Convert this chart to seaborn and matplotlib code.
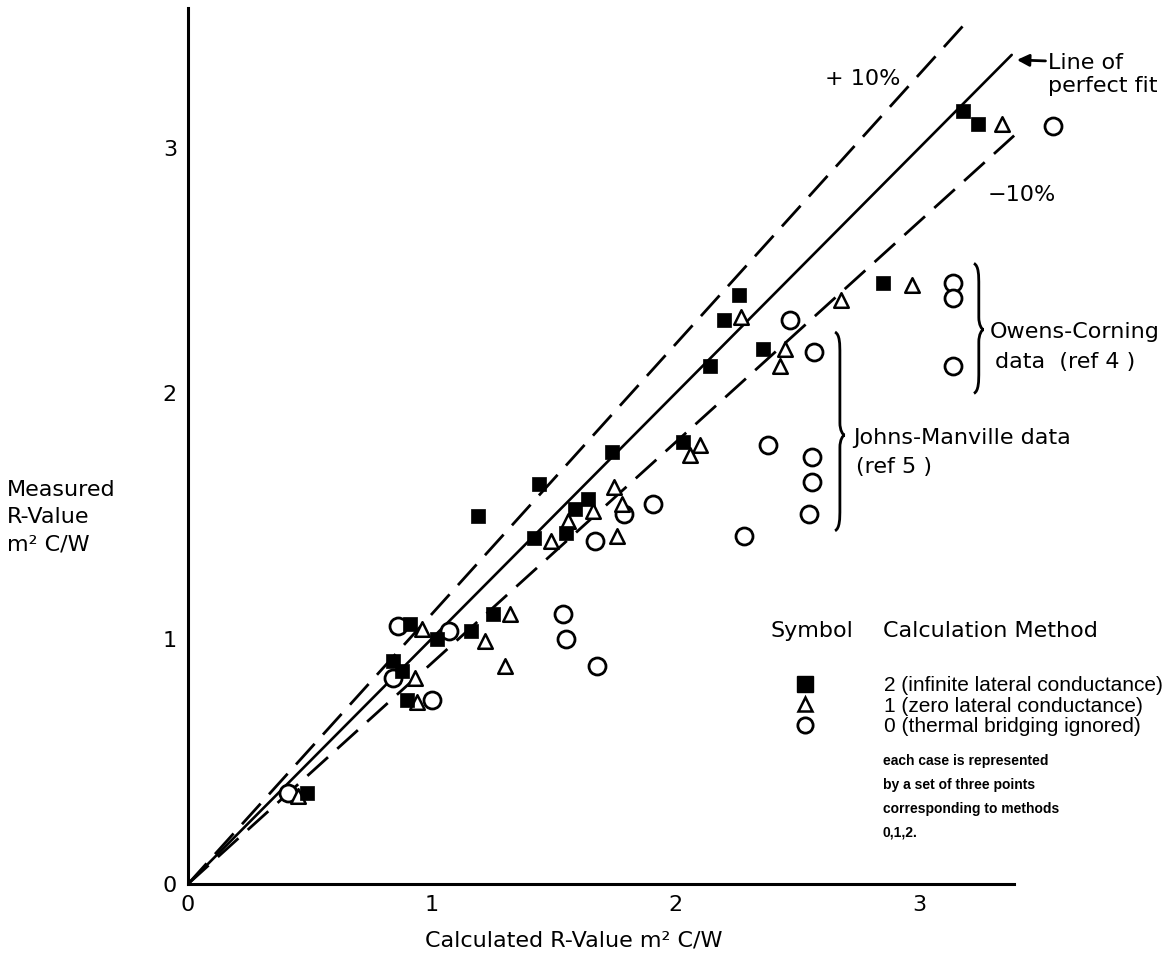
import pandas as pd
import matplotlib.pyplot as plt
import seaborn as sns
from matplotlib.path import Path
from matplotlib.patches import PathPatch
from matplotlib.lines import Line2D

# Method 2 (infinite lateral conductance) - filled squares
calc_m2 = [0.49, 0.84, 0.88, 0.90, 0.91, 1.02, 1.16, 1.25, 1.19, 1.42, 1.55, 1.59,
           1.64, 1.44, 1.74, 2.03, 2.14, 2.20, 2.26, 2.36, 2.85, 3.18, 3.24]
meas_m2 = [0.37, 0.91, 0.87, 0.75, 1.06, 1.00, 1.03, 1.10, 1.50, 1.41, 1.43, 1.53,
           1.57, 1.63, 1.76, 1.80, 2.11, 2.30, 2.40, 2.18, 2.45, 3.15, 3.10]

# Method 1 (zero lateral conductance) - open triangles
calc_m1 = [0.45, 0.93, 0.94, 0.96, 1.22, 1.30, 1.32, 1.49, 1.56, 1.66, 1.75, 1.76,
           1.78, 2.06, 2.10, 2.27, 2.43, 2.45, 2.68, 2.97, 3.34]
meas_m1 = [0.36, 0.84, 0.74, 1.04, 0.99, 0.89, 1.10, 1.40, 1.48, 1.52, 1.62, 1.42,
           1.55, 1.75, 1.79, 2.31, 2.11, 2.18, 2.38, 2.44, 3.10]

# Method 0 (thermal bridging ignored) - open circles
calc_m0 = [0.41, 0.84, 0.86, 1.00, 1.07, 1.54, 1.55, 1.68, 1.67, 1.79, 1.91, 2.28,
           2.38, 2.47, 2.57, 2.55, 2.56, 2.56, 3.14, 3.14, 3.14, 3.55]
meas_m0 = [0.37, 0.84, 1.05, 0.75, 1.03, 1.10, 1.00, 0.89, 1.40, 1.51, 1.55, 1.42,
           1.79, 2.30, 2.17, 1.51, 1.64, 1.74, 2.45, 2.39, 2.11, 3.09]

# Reference lines: perfect fit and +/- 10 %
fit_x = [0, 3.38]
plus_x = [0, 3.21]
minus_x = [0, 3.39]

legend_labels = ['2 (infinite lateral conductance)',
                 '1 (zero lateral conductance)',
                 '0 (thermal bridging ignored)']

sns.set_style('white')
plt.rcParams['font.family'] = ['DejaVu Sans']
plt.rcParams['text.color'] = 'black'
plt.rcParams['axes.labelcolor'] = 'black'

W, H = 1167, 971
fig = plt.figure(figsize=(W / 100, H / 100), dpi=100)
px_x, px_y = 243.7, 245.3
ax = fig.add_axes([188 / W, 87 / H, 3.75 * px_x / W, 3.57 * px_y / H])
ax.set_xlim(0, 3.75)
ax.set_ylim(0, 3.57)

# Lines
ax.plot(fit_x, fit_x, color='black', lw=1.9, zorder=2)
ax.plot(plus_x, [1.1 * v for v in plus_x], color='black', lw=2.0,
        dashes=(10, 4.5), zorder=2)
ax.plot(minus_x, [0.9 * v for v in minus_x], color='black', lw=2.0,
        dashes=(10, 4.5), zorder=2)

# Points
sns.scatterplot(x=calc_m0, y=meas_m0, marker='o', s=150, facecolor='white',
                edgecolor='black', linewidth=2.0, ax=ax, clip_on=False, zorder=3)
sns.scatterplot(x=calc_m1, y=meas_m1, marker='^', s=110, facecolor='white',
                edgecolor='black', linewidth=1.8, ax=ax, clip_on=False, zorder=4)
sns.scatterplot(x=calc_m2, y=meas_m2, marker='s', s=110, color='black',
                edgecolor='black', linewidth=0.5, ax=ax, clip_on=False, zorder=5)

# Axes styling
sns.despine(ax=ax)
ax.spines['left'].set_linewidth(2.2)
ax.spines['bottom'].set_linewidth(2.2)
ax.spines['left'].set_color('black')
ax.spines['bottom'].set_color('black')
ax.spines['bottom'].set_bounds(0, 3.39)
ax.set_xticks([0, 1, 2, 3])
ax.set_yticks([0, 1, 2, 3])
ax.tick_params(direction='in', length=8, width=2, colors='black',
               labelsize=16, pad=8)

ax.set_xlabel('Calculated R-Value m² C/W', fontsize=16, va='center')
ax.xaxis.set_label_coords((574 - 188) / (3.75 * px_x), (884 - 940) / (3.57 * px_y))
ax.set_ylabel('Measured\nR-Value\nm² C/W', fontsize=16, rotation=0,
              ha='left', va='center', linespacing=1.45)
ax.yaxis.set_label_coords((7 - 188) / (3.75 * px_x), (884 - 517) / (3.57 * px_y))

# Annotations
ax.text(2.77, 3.28, '+ 10%', fontsize=16, ha='center', va='center')
ax.text(3.28, 2.81, '\u221210%', fontsize=16, ha='left', va='center')
ax.text(3.53, 3.30, 'Line of\nperfect fit', fontsize=16, ha='left', va='center')
ax.annotate('', xy=(3.39, 3.36), xytext=(3.53, 3.355),
            arrowprops=dict(arrowstyle='-|>', color='black', lw=2,
                            mutation_scale=18))
ax.text(3.29, 2.25, 'Owens-Corning', fontsize=16, ha='left', va='center')
ax.text(3.31, 2.13, 'data  (ref 4 )', fontsize=16, ha='left', va='center')
ax.text(2.73, 1.82, 'Johns-Manville data', fontsize=16, ha='left', va='center')
ax.text(2.74, 1.70, '(ref 5 )', fontsize=16, ha='left', va='center')


def draw_brace(ax, x, y_bot, y_top, y_tip, w):
    h = 0.5 * w
    verts = [(x, y_top),
             (x + h, y_top - 0.01), (x + h, y_top - 0.05), (x + h, y_top - 0.09),
             (x + h, y_tip + 0.05),
             (x + h, y_tip + 0.02), (x + w * 0.8, y_tip), (x + w, y_tip),
             (x + w * 0.8, y_tip), (x + h, y_tip - 0.02), (x + h, y_tip - 0.05),
             (x + h, y_bot + 0.09),
             (x + h, y_bot + 0.05), (x + h, y_bot + 0.01), (x, y_bot)]
    codes = [Path.MOVETO,
             Path.CURVE4, Path.CURVE4, Path.CURVE4,
             Path.LINETO,
             Path.CURVE4, Path.CURVE4, Path.CURVE4,
             Path.CURVE4, Path.CURVE4, Path.CURVE4,
             Path.LINETO,
             Path.CURVE4, Path.CURVE4, Path.CURVE4]
    ax.add_patch(PathPatch(Path(verts, codes), facecolor='none',
                           edgecolor='black', lw=2, clip_on=False))


draw_brace(ax, 3.225, 2.0, 2.53, 2.26, 0.04)
draw_brace(ax, 2.655, 1.44, 2.25, 1.83, 0.04)

# Legend
ax.text(2.39, 1.03, 'Symbol', fontsize=16, ha='left', va='center')
ax.text(2.85, 1.03, 'Calculation Method', fontsize=16, ha='left', va='center')
handles = [Line2D([], [], marker='s', ls='', color='black', ms=11),
           Line2D([], [], marker='^', ls='', mfc='white', mec='black', mew=1.8, ms=10),
           Line2D([], [], marker='o', ls='', mfc='white', mec='black', mew=2, ms=11)]
fig.legend(handles, legend_labels, loc='upper left',
           bbox_to_anchor=(772 / W, 1 - 676 / H), frameon=False,
           prop={'family': 'Liberation Sans', 'size': 15},
           handlelength=3.2, handletextpad=2.2, labelspacing=0.08,
           borderpad=0, borderaxespad=0)

ax.text(2.85, 0.355, 'each case is represented\nby a set of three points\n'
        'corresponding to methods\n0,1,2.', fontsize=10, fontweight='bold',
        family='Liberation Sans', ha='left', va='center', linespacing=1.9)

plt.savefig('out.png', dpi=100)
